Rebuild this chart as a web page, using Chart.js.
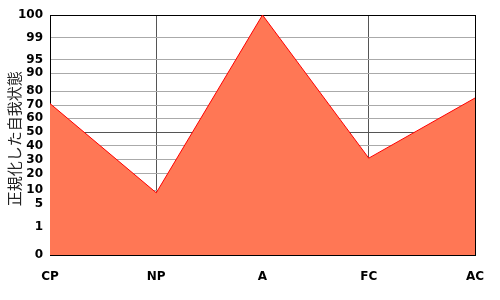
<!DOCTYPE html>
<html><head><meta charset="utf-8">
<script src="https://cdn.jsdelivr.net/npm/chart.js@4"></script>
<style>html,body{margin:0;padding:0;background:#fff}</style>
</head><body>
<canvas id="c" width="500" height="300" style="width:500px;height:300px;display:block"></canvas>
<script>
const categories = ['CP', 'NP', 'A', 'FC', 'AC'];
const values = [71, 9, 100, 31, 75];
const tickValues = [0, 1, 5, 10, 20, 30, 40, 50, 60, 70, 80, 90, 95, 99, 100];
// relative height of each tick label along the (non-linear) value axis
const tickStops = [0, 0.1167, 0.2125, 0.2708, 0.3396, 0.3979, 0.4542, 0.5125, 0.5708, 0.625, 0.6833, 0.7583, 0.8146, 0.9042, 1];
const axisTitle = '正規化した自我状態';

function toAxis(v) {
  for (let i = 1; i < tickValues.length; i++) {
    if (v <= tickValues[i]) {
      const t = (v - tickValues[i - 1]) / (tickValues[i] - tickValues[i - 1]);
      return tickStops[i - 1] + t * (tickStops[i] - tickStops[i - 1]);
    }
  }
  return 1;
}

const tickFont = { family: 'DejaVu Sans', size: 12, weight: 'bold' };

new Chart(document.getElementById('c'), {
  type: 'line',
  data: {
    labels: categories,
    datasets: [{
      data: values.map(toAxis),
      backgroundColor: '#ff7755',
      borderColor: '#ff0000',
      borderWidth: 1,
      fill: 'origin',
      tension: 0,
      pointRadius: 0
    }]
  },
  options: {
    responsive: false,
    animation: false,
    devicePixelRatio: 1,
    layout: { padding: { top: 15, right: 25, left: 0, bottom: 0 } },
    plugins: { legend: { display: false }, tooltip: { enabled: false } },
    scales: {
      x: {
        type: 'category',
        offset: false,
        z: 1,
        afterFit: s => { s.height = 45; },
        grid: {
          offset: false,
          drawTicks: false,
          lineWidth: 1,
          color: ctx => (ctx.index === 0 || ctx.index === categories.length - 1) ? '#000' : '#555'
        },
        border: { display: true, color: '#000', width: 1 },
        ticks: { font: tickFont, color: '#000', padding: 15, autoSkip: false, maxRotation: 0 }
      },
      y: {
        type: 'linear',
        min: 0,
        max: 1,
        z: 1,
        afterFit: s => { s.width = 50; },
        afterBuildTicks: s => { s.ticks = tickStops.map(v => ({ value: v })); },
        grid: {
          drawTicks: false,
          lineWidth: 1,
          color: ctx => {
            if (ctx.index === tickValues.indexOf(50)) return '#555';
            if (ctx.index === 0 || ctx.index === tickValues.length - 1) return '#000';
            return '#aaa';
          }
        },
        border: { display: true, color: '#000', width: 1 },
        ticks: {
          font: tickFont,
          color: '#000',
          padding: 7,
          autoSkip: false,
          callback: (v, i) => String(tickValues[i])
        },
        title: {
          display: true,
          text: axisTitle + '\u2002',
          font: { family: 'Noto Sans CJK JP', size: 15 },
          color: '#222',
          padding: { top: 5, bottom: 0 }
        }
      }
    }
  }
});
</script>
</body></html>
